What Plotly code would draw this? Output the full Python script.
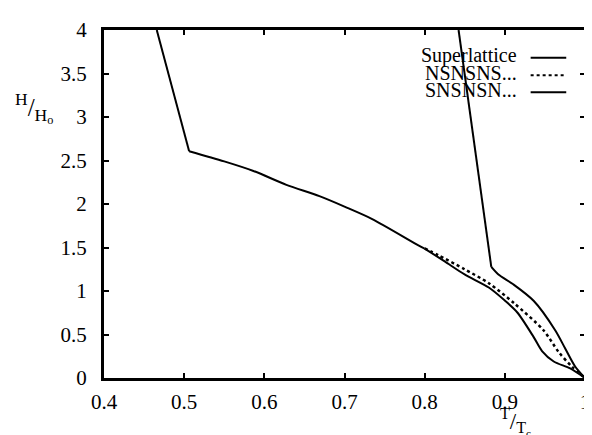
import plotly.graph_objects as go

# Common low-T branch (sharp kink at T~0.506, then smooth)
left_T = [0.4658, 0.5062, 0.55, 0.5864, 0.6275, 0.6687, 0.70, 0.7346, 0.7922, 0.80]
left_H = [4.0, 2.607, 2.49, 2.38, 2.22, 2.09, 1.97, 1.827, 1.525, 1.488]

# SNSNSN... lower solid continuation
sns_T = [0.80, 0.825, 0.8498, 0.88, 0.90, 0.9156, 0.936, 0.9464, 0.961, 0.9815, 1.0]
sns_H = [1.488, 1.34, 1.19, 1.04, 0.89, 0.753, 0.47, 0.31, 0.19, 0.11, 0.0]

# NSNSNS... dotted
nsn_T = [0.80, 0.8169, 0.8498, 0.88, 0.9115, 0.9485, 0.967, 0.9835, 1.0]
nsn_H = [1.49, 1.412, 1.25, 1.09, 0.86, 0.546, 0.30, 0.132, 0.0]

# Superlattice upper branch (sharp kink at T~0.883)
sup_T = [0.8423, 0.8831, 0.892, 0.91, 0.9362, 0.963, 0.9753, 0.9877, 1.0]
sup_H = [4.0, 1.277, 1.19, 1.08, 0.885, 0.546, 0.339, 0.132, 0.0]

x_ticks = [0.4, 0.5, 0.6, 0.7, 0.8, 0.9, 1.0]
x_tick_labels = ["0.4", "0.5", "0.6", "0.7", "0.8", "0.9", "1"]
y_ticks = [0, 0.5, 1, 1.5, 2, 2.5, 3, 3.5, 4]
y_tick_labels = ["0", "0.5", "1", "1.5", "2", "2.5", "3", "3.5", "4"]

legend_names = ["Superlattice", "NSNSNS...", "SNSNSN..."]
legend_dash = ["solid", "dot", "solid"]

FONT = "Liberation Serif, Times New Roman, serif"
SOLID = dict(color="black", width=2)

fig = go.Figure()
fig.add_trace(go.Scatter(x=nsn_T, y=nsn_H, mode="lines",
                         line=dict(color="black", width=2.5, dash="dot", shape="spline", smoothing=0.8),
                         name=legend_names[1]))
fig.add_trace(go.Scatter(x=left_T[:2], y=left_H[:2], mode="lines", line=SOLID,
                         name=legend_names[2]))
fig.add_trace(go.Scatter(x=left_T[1:], y=left_H[1:], mode="lines",
                         line=dict(SOLID, shape="spline", smoothing=0.8), name=legend_names[2]))
fig.add_trace(go.Scatter(x=sns_T, y=sns_H, mode="lines",
                         line=dict(SOLID, shape="spline", smoothing=0.8), name=legend_names[2]))
fig.add_trace(go.Scatter(x=sup_T[:2], y=sup_H[:2], mode="lines", line=SOLID,
                         name=legend_names[0]))
fig.add_trace(go.Scatter(x=sup_T[1:], y=sup_H[1:], mode="lines",
                         line=dict(SOLID, shape="spline", smoothing=0.8), name=legend_names[0]))

axis_common = dict(showline=True, linecolor="black", linewidth=3, mirror="ticks",
                   ticks="inside", ticklen=5, tickwidth=2, tickcolor="black",
                   showgrid=False, zeroline=False,
                   tickfont=dict(family=FONT, size=21, color="black"))

fig.update_xaxes(range=[0.4, 1.0], tickvals=x_ticks, ticktext=x_tick_labels,
                 ticklabelstandoff=3, **axis_common)
fig.update_yaxes(range=[0, 4], tickvals=y_ticks, ticktext=y_tick_labels,
                 ticklabelstandoff=10, **axis_common)

legend_y = [0.926, 0.876, 0.827]
for name, dash, yy in zip(legend_names, legend_dash, legend_y):
    fig.add_annotation(x=0.862, y=yy, xref="paper", yref="paper", text=name,
                       showarrow=False, xanchor="right", yanchor="middle",
                       font=dict(family=FONT, size=20, color="black"))
    fig.add_shape(type="line", xref="paper", yref="paper",
                  x0=0.887, x1=0.961, y0=yy - 0.006, y1=yy - 0.006,
                  line=dict(color="black", width=2, dash=dash))

fig.add_annotation(x=-0.145, y=0.777, xref="paper", yref="paper",
                   text="<sup>H</sup>/<sub>H<sub>o</sub></sub>", showarrow=False,
                   xanchor="center", yanchor="middle",
                   font=dict(family=FONT, size=25, color="black"))
fig.add_annotation(x=0.856, y=-0.135, xref="paper", yref="paper",
                   text="<sup>T</sup>/<sub>T<sub>c</sub></sub>", showarrow=False,
                   xanchor="center", yanchor="top", yshift=22,
                   font=dict(family=FONT, size=23, color="black"))

fig.update_layout(width=592, height=435, margin=dict(l=96, r=10, t=16, b=65),
                  font=dict(family=FONT, size=20, color="black"),
                  plot_bgcolor="white", paper_bgcolor="white", showlegend=False)

fig.write_html("out.html")
